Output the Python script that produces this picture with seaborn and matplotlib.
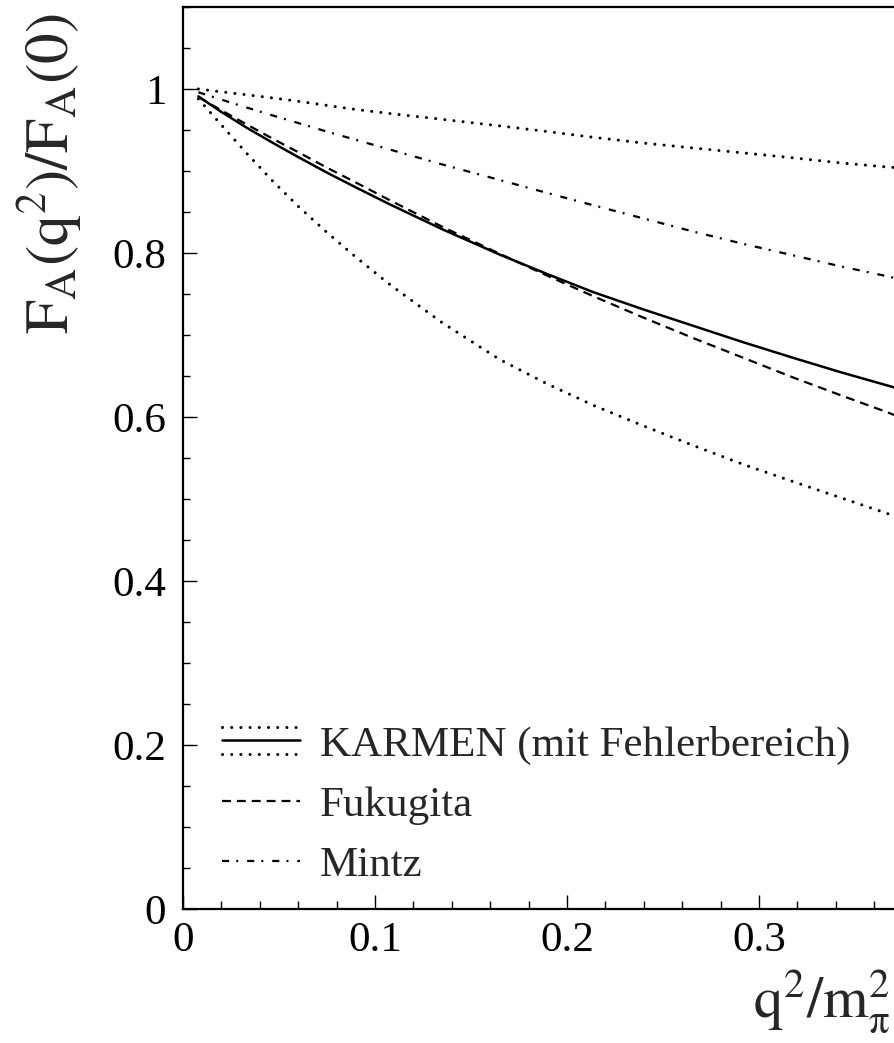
import numpy as np
import pandas as pd
import seaborn as sns
import matplotlib.pyplot as plt
from matplotlib.lines import Line2D
from matplotlib.legend_handler import HandlerBase
from matplotlib.ticker import MultipleLocator, FuncFormatter

# q^2 / m_pi^2 sample points
q2 = [0.008, 0.02, 0.033, 0.047, 0.06, 0.075, 0.09, 0.108, 0.135, 0.165,
      0.19, 0.214, 0.24, 0.266, 0.292, 0.318, 0.342, 0.366, 0.372]

# KARMEN axial form factor with its error band
karmen_upper = [1.000, 0.9965, 0.993, 0.989, 0.985, 0.980, 0.975, 0.970, 0.963,
                0.955, 0.948, 0.941, 0.934, 0.928, 0.922, 0.916, 0.910, 0.905,
                0.904]
karmen_central = [0.991, 0.972, 0.953, 0.934, 0.917, 0.898, 0.880, 0.859, 0.829,
                  0.798, 0.774, 0.752, 0.731, 0.711, 0.691, 0.672, 0.655, 0.639,
                  0.635]
karmen_lower = [0.988, 0.956, 0.922, 0.887, 0.857, 0.825, 0.795, 0.761, 0.715,
                0.670, 0.640, 0.614, 0.589, 0.565, 0.542, 0.521, 0.502, 0.483,
                0.478]

# Theoretical predictions
fukugita = [0.990, 0.974, 0.957, 0.939, 0.923, 0.904, 0.886, 0.864, 0.832,
            0.799, 0.772, 0.747, 0.721, 0.696, 0.672, 0.648, 0.627, 0.6065,
            0.601]
mintz = [0.996, 0.987, 0.9775, 0.9675, 0.9585, 0.948, 0.938, 0.926, 0.908,
         0.889, 0.873, 0.858, 0.842, 0.826, 0.811, 0.797, 0.784, 0.772, 0.769]

legend_labels = ["KARMEN (mit Fehlerbereich)", "Fukugita", "Mintz"]
y_ticks = [0, 0.2, 0.4, 0.6, 0.8, 1.0]
x_ticks = [0, 0.1, 0.2, 0.3]

sns.set_style("ticks")
plt.rcParams["font.family"] = ["Liberation Serif", "DejaVu Serif"]
plt.rcParams["mathtext.fontset"] = "stix"

DOT = (0, (0.01, 3.0))
DASH = (0, (4.0, 2.7))
DASHDOT = (0, (3.2, 3.2, 0.9, 4.0))
DOT_LW = 2.2
DASH_LW = 1.6

fig = plt.figure(figsize=(8.94, 10.43), dpi=100)
ax = fig.add_axes([0.2047, 0.1285, 0.859, 0.8648])

df = pd.DataFrame({"q2": q2, "upper": karmen_upper, "central": karmen_central,
                   "lower": karmen_lower, "fukugita": fukugita, "mintz": mintz})

for col in ["upper", "lower"]:
    sns.lineplot(data=df, x="q2", y=col, ax=ax, color="black", lw=DOT_LW,
                 linestyle=DOT, dash_capstyle="round", errorbar=None)
sns.lineplot(data=df, x="q2", y="central", ax=ax, color="black", lw=1.8,
             linestyle="-", errorbar=None)
sns.lineplot(data=df, x="q2", y="fukugita", ax=ax, color="black", lw=DASH_LW,
             linestyle=DASH, errorbar=None)
sns.lineplot(data=df, x="q2", y="mintz", ax=ax, color="black", lw=DASH_LW,
             linestyle=DASHDOT, errorbar=None)

ax.set_xlim(0, 0.4)
ax.set_ylim(0, 1.1)
ax.set_xlabel("")
ax.set_ylabel("")

ax.set_xticks(x_ticks)
ax.set_yticks(y_ticks)
ax.xaxis.set_minor_locator(MultipleLocator(0.02))
ax.yaxis.set_minor_locator(MultipleLocator(0.05))
fmt = FuncFormatter(lambda v, p: f"{v:g}")
ax.xaxis.set_major_formatter(fmt)
ax.yaxis.set_major_formatter(fmt)

ax.tick_params(axis="both", which="both", direction="in", color="black",
               labelsize=31, labelcolor="black")
ax.tick_params(axis="x", which="major", length=10, width=1.0, pad=9)
ax.tick_params(axis="x", which="minor", length=6, width=1.0)
ax.tick_params(axis="y", which="major", length=10, width=1.0, pad=12)
ax.tick_params(axis="y", which="minor", length=5, width=1.0)
ax.tick_params(top=False, right=False, which="both")

for side in ["left", "bottom", "top"]:
    ax.spines[side].set_visible(True)
    ax.spines[side].set_color("black")
    ax.spines[side].set_linewidth(1.6)
ax.spines["right"].set_visible(False)


class BandHandler(HandlerBase):
    """Legend key: central line framed by two dotted band edges."""

    def create_artists(self, legend, orig_handle, xdescent, ydescent,
                       width, height, fontsize, trans):
        yc = height / 2.0 - ydescent
        off = 0.46 * height
        arts = []
        for dy, ls, lw in [(off, DOT, DOT_LW), (0.0, "-", 1.8),
                           (-off, DOT, DOT_LW)]:
            ln = Line2D([-xdescent, width - xdescent], [yc + dy, yc + dy],
                        color="black", linestyle=ls, lw=lw,
                        dash_capstyle="round")
            ln.set_transform(trans)
            arts.append(ln)
        return arts


band_key = Line2D([], [], color="black")
fuku_key = Line2D([], [], color="black", linestyle=DASH, lw=DASH_LW)
mintz_key = Line2D([], [], color="black", linestyle=DASHDOT, lw=DASH_LW)

leg = ax.legend([band_key, fuku_key, mintz_key], legend_labels,
                handler_map={band_key: BandHandler()},
                loc="upper left", bbox_to_anchor=(0.0508, 0.2036),
                frameon=False, fontsize=31, handlelength=1.8,
                handletextpad=0.47, labelspacing=0.49, borderpad=0,
                borderaxespad=0)

fig.text(0.056, 0.9875, r"$\mathrm{F_A(q^2)/F_A(0)}$", rotation=90,
         ha="center", va="top", fontsize=44)
fig.text(0.842, 0.0249, r"$\mathrm{q^2/m_{\pi}^2}$", ha="left",
         va="baseline", fontsize=42)

fig.savefig("out.png", dpi=100)
